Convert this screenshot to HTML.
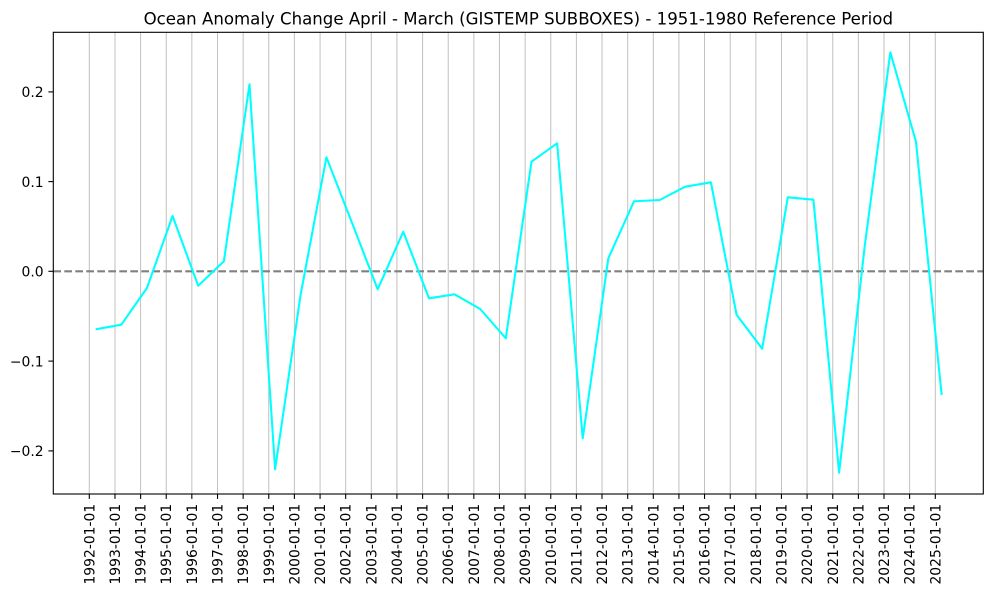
<!DOCTYPE html>
<html>
<head>
<meta charset="utf-8">
<style>
html,body{margin:0;padding:0;background:#fff;}
svg{display:block;}
text{font-family:"DejaVu Sans","Liberation Sans",sans-serif;fill:#000;}
</style>
</head>
<body>
<svg width="988" height="593" viewBox="0 0 988 593" xmlns="http://www.w3.org/2000/svg">
<rect x="0" y="0" width="988" height="593" fill="#fff"/>
<text x="518.3" y="24.5" font-size="16.6" text-anchor="middle">Ocean Anomaly Change April - March (GISTEMP SUBBOXES) - 1951-1980 Reference Period</text>

<!-- vertical grid -->
<g stroke="#c0c0c0" stroke-width="1">
<line x1="89.30" y1="32.3" x2="89.30" y2="494"/>
<line x1="114.99" y1="32.3" x2="114.99" y2="494"/>
<line x1="140.60" y1="32.3" x2="140.60" y2="494"/>
<line x1="166.22" y1="32.3" x2="166.22" y2="494"/>
<line x1="191.84" y1="32.3" x2="191.84" y2="494"/>
<line x1="217.53" y1="32.3" x2="217.53" y2="494"/>
<line x1="243.14" y1="32.3" x2="243.14" y2="494"/>
<line x1="268.76" y1="32.3" x2="268.76" y2="494"/>
<line x1="294.38" y1="32.3" x2="294.38" y2="494"/>
<line x1="320.07" y1="32.3" x2="320.07" y2="494"/>
<line x1="345.68" y1="32.3" x2="345.68" y2="494"/>
<line x1="371.30" y1="32.3" x2="371.30" y2="494"/>
<line x1="396.92" y1="32.3" x2="396.92" y2="494"/>
<line x1="422.60" y1="32.3" x2="422.60" y2="494"/>
<line x1="448.22" y1="32.3" x2="448.22" y2="494"/>
<line x1="473.84" y1="32.3" x2="473.84" y2="494"/>
<line x1="499.46" y1="32.3" x2="499.46" y2="494"/>
<line x1="525.14" y1="32.3" x2="525.14" y2="494"/>
<line x1="550.76" y1="32.3" x2="550.76" y2="494"/>
<line x1="576.38" y1="32.3" x2="576.38" y2="494"/>
<line x1="601.99" y1="32.3" x2="601.99" y2="494"/>
<line x1="627.68" y1="32.3" x2="627.68" y2="494"/>
<line x1="653.30" y1="32.3" x2="653.30" y2="494"/>
<line x1="678.92" y1="32.3" x2="678.92" y2="494"/>
<line x1="704.53" y1="32.3" x2="704.53" y2="494"/>
<line x1="730.22" y1="32.3" x2="730.22" y2="494"/>
<line x1="755.84" y1="32.3" x2="755.84" y2="494"/>
<line x1="781.45" y1="32.3" x2="781.45" y2="494"/>
<line x1="807.07" y1="32.3" x2="807.07" y2="494"/>
<line x1="832.76" y1="32.3" x2="832.76" y2="494"/>
<line x1="858.38" y1="32.3" x2="858.38" y2="494"/>
<line x1="883.99" y1="32.3" x2="883.99" y2="494"/>
<line x1="909.61" y1="32.3" x2="909.61" y2="494"/>
<line x1="935.30" y1="32.3" x2="935.30" y2="494"/>
</g>

<!-- zero dashed line -->
<line x1="53.3" y1="271.3" x2="983.3" y2="271.3" stroke="#808080" stroke-width="2.08" stroke-dasharray="7.7,3.3"/>

<!-- data line -->
<polyline fill="none" stroke="#00ffff" stroke-width="2.08" stroke-linejoin="round" stroke-linecap="butt" points="
95.65,329.3 121.34,324.7 146.95,288 172.57,216 198.19,285.7 223.88,261.3 249.49,84.3 275.11,469.3 300.73,294 326.42,157.3 352.03,222.9 377.65,289.3 403.27,231.7 428.95,298.3 454.57,294.3 480.19,309 505.81,338.3 531.49,161.7 557.11,143.3 582.73,438.3 608.34,258.3 634.03,201.3 659.65,200 685.27,186.7 710.88,182.3 736.57,314.7 762.19,348.7 787.80,197.3 813.42,199.7 839.11,472.7 864.73,246 890.34,52.3 915.96,141.7 941.65,395"/>

<!-- spines -->
<rect x="53.3" y="32.3" width="930" height="461.7" fill="none" stroke="#000" stroke-width="1.1"/>

<!-- y ticks -->
<g stroke="#000" stroke-width="1.1">
<line x1="48.4" y1="91.9" x2="53.3" y2="91.9"/>
<line x1="48.4" y1="181.6" x2="53.3" y2="181.6"/>
<line x1="48.4" y1="271.3" x2="53.3" y2="271.3"/>
<line x1="48.4" y1="361.1" x2="53.3" y2="361.1"/>
<line x1="48.4" y1="450.9" x2="53.3" y2="450.9"/>
</g>
<g font-size="13.9" text-anchor="end">
<text x="43.6" y="97.1">0.2</text>
<text x="43.6" y="186.8">0.1</text>
<text x="43.6" y="276.5">0.0</text>
<text x="43.6" y="366.3">−0.1</text>
<text x="43.6" y="456.1">−0.2</text>
</g>

<!-- x ticks -->
<g stroke="#000" stroke-width="1.1">
<line x1="89.30" y1="494" x2="89.30" y2="498.9"/>
<line x1="114.99" y1="494" x2="114.99" y2="498.9"/>
<line x1="140.60" y1="494" x2="140.60" y2="498.9"/>
<line x1="166.22" y1="494" x2="166.22" y2="498.9"/>
<line x1="191.84" y1="494" x2="191.84" y2="498.9"/>
<line x1="217.53" y1="494" x2="217.53" y2="498.9"/>
<line x1="243.14" y1="494" x2="243.14" y2="498.9"/>
<line x1="268.76" y1="494" x2="268.76" y2="498.9"/>
<line x1="294.38" y1="494" x2="294.38" y2="498.9"/>
<line x1="320.07" y1="494" x2="320.07" y2="498.9"/>
<line x1="345.68" y1="494" x2="345.68" y2="498.9"/>
<line x1="371.30" y1="494" x2="371.30" y2="498.9"/>
<line x1="396.92" y1="494" x2="396.92" y2="498.9"/>
<line x1="422.60" y1="494" x2="422.60" y2="498.9"/>
<line x1="448.22" y1="494" x2="448.22" y2="498.9"/>
<line x1="473.84" y1="494" x2="473.84" y2="498.9"/>
<line x1="499.46" y1="494" x2="499.46" y2="498.9"/>
<line x1="525.14" y1="494" x2="525.14" y2="498.9"/>
<line x1="550.76" y1="494" x2="550.76" y2="498.9"/>
<line x1="576.38" y1="494" x2="576.38" y2="498.9"/>
<line x1="601.99" y1="494" x2="601.99" y2="498.9"/>
<line x1="627.68" y1="494" x2="627.68" y2="498.9"/>
<line x1="653.30" y1="494" x2="653.30" y2="498.9"/>
<line x1="678.92" y1="494" x2="678.92" y2="498.9"/>
<line x1="704.53" y1="494" x2="704.53" y2="498.9"/>
<line x1="730.22" y1="494" x2="730.22" y2="498.9"/>
<line x1="755.84" y1="494" x2="755.84" y2="498.9"/>
<line x1="781.45" y1="494" x2="781.45" y2="498.9"/>
<line x1="807.07" y1="494" x2="807.07" y2="498.9"/>
<line x1="832.76" y1="494" x2="832.76" y2="498.9"/>
<line x1="858.38" y1="494" x2="858.38" y2="498.9"/>
<line x1="883.99" y1="494" x2="883.99" y2="498.9"/>
<line x1="909.61" y1="494" x2="909.61" y2="498.9"/>
<line x1="935.30" y1="494" x2="935.30" y2="498.9"/>
</g>
<g font-size="13.9" text-anchor="end">
<text transform="translate(89.30,503.8) rotate(-90)" dy="0.36em">1992-01-01</text>
<text transform="translate(114.99,503.8) rotate(-90)" dy="0.36em">1993-01-01</text>
<text transform="translate(140.60,503.8) rotate(-90)" dy="0.36em">1994-01-01</text>
<text transform="translate(166.22,503.8) rotate(-90)" dy="0.36em">1995-01-01</text>
<text transform="translate(191.84,503.8) rotate(-90)" dy="0.36em">1996-01-01</text>
<text transform="translate(217.53,503.8) rotate(-90)" dy="0.36em">1997-01-01</text>
<text transform="translate(243.14,503.8) rotate(-90)" dy="0.36em">1998-01-01</text>
<text transform="translate(268.76,503.8) rotate(-90)" dy="0.36em">1999-01-01</text>
<text transform="translate(294.38,503.8) rotate(-90)" dy="0.36em">2000-01-01</text>
<text transform="translate(320.07,503.8) rotate(-90)" dy="0.36em">2001-01-01</text>
<text transform="translate(345.68,503.8) rotate(-90)" dy="0.36em">2002-01-01</text>
<text transform="translate(371.30,503.8) rotate(-90)" dy="0.36em">2003-01-01</text>
<text transform="translate(396.92,503.8) rotate(-90)" dy="0.36em">2004-01-01</text>
<text transform="translate(422.60,503.8) rotate(-90)" dy="0.36em">2005-01-01</text>
<text transform="translate(448.22,503.8) rotate(-90)" dy="0.36em">2006-01-01</text>
<text transform="translate(473.84,503.8) rotate(-90)" dy="0.36em">2007-01-01</text>
<text transform="translate(499.46,503.8) rotate(-90)" dy="0.36em">2008-01-01</text>
<text transform="translate(525.14,503.8) rotate(-90)" dy="0.36em">2009-01-01</text>
<text transform="translate(550.76,503.8) rotate(-90)" dy="0.36em">2010-01-01</text>
<text transform="translate(576.38,503.8) rotate(-90)" dy="0.36em">2011-01-01</text>
<text transform="translate(601.99,503.8) rotate(-90)" dy="0.36em">2012-01-01</text>
<text transform="translate(627.68,503.8) rotate(-90)" dy="0.36em">2013-01-01</text>
<text transform="translate(653.30,503.8) rotate(-90)" dy="0.36em">2014-01-01</text>
<text transform="translate(678.92,503.8) rotate(-90)" dy="0.36em">2015-01-01</text>
<text transform="translate(704.53,503.8) rotate(-90)" dy="0.36em">2016-01-01</text>
<text transform="translate(730.22,503.8) rotate(-90)" dy="0.36em">2017-01-01</text>
<text transform="translate(755.84,503.8) rotate(-90)" dy="0.36em">2018-01-01</text>
<text transform="translate(781.45,503.8) rotate(-90)" dy="0.36em">2019-01-01</text>
<text transform="translate(807.07,503.8) rotate(-90)" dy="0.36em">2020-01-01</text>
<text transform="translate(832.76,503.8) rotate(-90)" dy="0.36em">2021-01-01</text>
<text transform="translate(858.38,503.8) rotate(-90)" dy="0.36em">2022-01-01</text>
<text transform="translate(883.99,503.8) rotate(-90)" dy="0.36em">2023-01-01</text>
<text transform="translate(909.61,503.8) rotate(-90)" dy="0.36em">2024-01-01</text>
<text transform="translate(935.30,503.8) rotate(-90)" dy="0.36em">2025-01-01</text>
</g>
</svg>
</body>
</html>
